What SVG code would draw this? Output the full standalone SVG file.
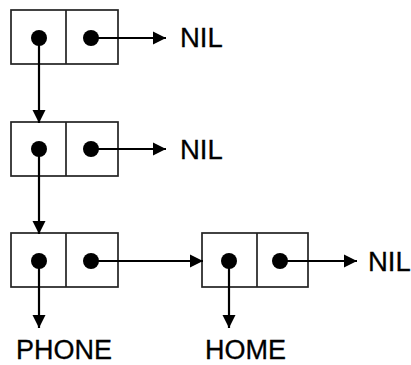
<svg xmlns="http://www.w3.org/2000/svg" width="411" height="365" viewBox="0 0 411 365">
<style>
.box{fill:none;stroke:#222;stroke-width:1.7}
.dot{fill:#000}
.ln{stroke:#000;stroke-width:2.2;fill:none;marker-end:url(#ah)}
.t{font-family:"Liberation Sans",Arial,sans-serif;font-size:27.5px;fill:#000;stroke:#000;stroke-width:0.3}
.b{font-size:27px}
</style>
<defs>
<marker id="ah" markerUnits="userSpaceOnUse" markerWidth="16" markerHeight="16" viewBox="0 0 16 16" refX="14" refY="8" orient="auto">
<path d="M1,1.5 L14,8 L1,14.5 Z" fill="#000"/>
</marker>
</defs>
<rect width="411" height="365" fill="#fff"/>
<g id="cell1">
<rect class="box" x="11" y="10" width="107" height="54"/>
<line class="box" x1="66" y1="10" x2="66" y2="64"/>
<circle class="dot" cx="39" cy="38" r="8"/>
<circle class="dot" cx="91" cy="38" r="8"/>
</g>
<g id="cell2">
<rect class="box" x="11" y="122" width="107" height="54"/>
<line class="box" x1="66" y1="122" x2="66" y2="176"/>
<circle class="dot" cx="39" cy="149" r="8"/>
<circle class="dot" cx="91" cy="149" r="8"/>
</g>
<g id="cell3">
<rect class="box" x="11" y="233" width="107" height="54"/>
<line class="box" x1="66" y1="233" x2="66" y2="287"/>
<circle class="dot" cx="39" cy="261" r="8"/>
<circle class="dot" cx="91" cy="261" r="8"/>
</g>
<g id="cell4">
<rect class="box" x="202" y="233" width="106" height="54"/>
<line class="box" x1="257" y1="233" x2="257" y2="287"/>
<circle class="dot" cx="229" cy="261" r="8"/>
<circle class="dot" cx="280" cy="261" r="8"/>
</g>
<g id="nil1"><text class="t" x="180" y="47">NIL</text></g>
<g id="nil2"><text class="t" x="180" y="159">NIL</text></g>
<g id="nil3"><text class="t" x="368" y="271">NIL</text></g>
<g id="phone"><text class="t b" x="16" y="359">PHONE</text></g>
<g id="home"><text class="t b" x="205" y="359">HOME</text></g>
<g id="connectors">
<line class="ln" x1="91" y1="38" x2="166" y2="38"/>
<line class="ln" x1="91" y1="149" x2="166" y2="149"/>
<line class="ln" x1="91" y1="261" x2="203" y2="261"/>
<line class="ln" x1="280" y1="261" x2="357" y2="261"/>
<line class="ln" x1="39" y1="38" x2="39" y2="123"/>
<line class="ln" x1="39" y1="149" x2="39" y2="234"/>
<line class="ln" x1="39" y1="261" x2="39" y2="328"/>
<line class="ln" x1="229" y1="261" x2="229" y2="328"/>
</g>
</svg>
